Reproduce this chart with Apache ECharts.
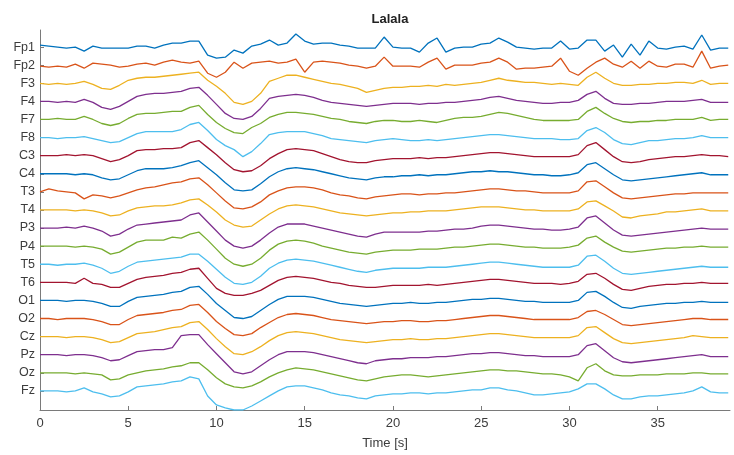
<!DOCTYPE html>
<html>
<head>
<meta charset="utf-8">
<title>Lalala</title>
<script src="https://cdn.jsdelivr.net/npm/echarts@6/dist/echarts.min.js"></script>
<style>
  html, body { margin: 0; padding: 0; background: #fff; }
  #chart { width: 734px; height: 455px; }
</style>
</head>
<body>
<div id="chart"></div>
<script>
// channel names, top to bottom
const channels = ['Fp1', 'Fp2', 'F3', 'F4', 'F7', 'F8', 'C3', 'C4', 'T3', 'T4',
  'P3', 'P4', 'T5', 'T6', 'O1', 'O2', 'Cz', 'Pz', 'Oz', 'Fz']
const sampleStep = 0.5 // seconds between samples
const xTicks = [0, 5, 10, 15, 20, 25, 30, 35]

// amplitudes (uV), one sample every 0.5 s from 0 to 39 s
const fp1 = [2, 1, 0, -1, 0, -4, 1, -1, -1, -1, -1, 1, 1, -1, 2, 4, 4, 6, 6, -8,
  -11, -10, -3, -6, 1, 3, 7, 2, 4, 13, 6, 3, 4, 4, 2, 1, -1, -1, -1, 10,
  0, -1, -1, -5, 4, 9, -5, -1, 0, 0, 3, 4, 9, 5, 0, -1, -2, -1, -1, 6,
  -2, -1, 7, 7, -4, 2, -10, 3, -8, 6, -1, -2, 0, 1, -2, 12, -3, -1, -1]
const fp2 = [-1, -2, -1, -2, 1, -3, 2, 1, 0, -2, -1, 1, 2, 0, 3, 5, 3, 2, 4, -8,
  -12, -7, 3, -3, 2, 3, 4, 2, 3, 6, -7, 3, 4, 3, 2, 0, -1, -3, -1, 8,
  -1, -1, -1, -2, 3, 7, -4, 0, 0, 0, 2, 3, 7, 3, -4, -3, -3, -2, -1, 7,
  -6, -10, -3, 3, 7, 1, -2, 4, -3, 4, -1, -2, 1, 1, -2, 14, -3, -1, 0]
const f3 = [0, -1, 0, -1, 0, 2, -1, -5, -6, -2, 3, 5, 6, 6, 7, 8, 9, 10, 11, 3,
  -3, -10, -19, -21, -18, -10, 2, 5, 8, 8, 6, 4, 2, 0, -1, -3, -5, -9, -7, -5,
  -4, -4, -3, -3, -2, -3, -1, -2, -1, 0, 1, 3, 5, 3, 2, 1, 1, 0, -1, 0,
  -1, -2, 6, 11, 5, 0, -2, -2, -1, -1, 0, 0, 1, 1, 0, 3, -1, 0, 0]
const f4 = [0, 0, -1, 0, -1, 2, -1, -6, -8, -5, 0, 5, 7, 8, 8, 9, 10, 13, 14, 6,
  -3, -12, -17, -18, -15, -7, 3, 5, 6, 7, 6, 4, 1, -1, -2, -3, -4, -5, -4, -3,
  -2, -2, -2, -3, -2, -2, -1, -1, 0, 1, 2, 4, 5, 3, 1, 0, -1, -2, -2, -1,
  -1, 1, 7, 10, 3, -2, -3, -3, -2, -2, -1, 0, 0, 0, 1, 2, -1, -1, -1]
const f7 = [0, 0, 1, 0, 0, 3, 0, -4, -6, -4, 1, 5, 6, 6, 7, 8, 8, 12, 14, 5,
  -3, -9, -13, -14, -8, -4, 2, 5, 7, 7, 6, 5, 3, 1, 0, -2, -3, -4, -2, -1,
  -1, -2, -2, -1, -2, -3, -1, 1, 2, 2, 3, 5, 7, 6, 4, 2, 0, -1, -1, -1,
  -1, 0, 8, 12, 6, 1, -2, -3, -2, -2, -1, -1, 0, 0, 0, 2, -1, 0, 0]
const f8 = [0, 0, -1, 0, 0, 1, -1, -3, -5, -4, 0, 4, 6, 6, 6, 6, 8, 13, 15, 7,
  -2, -8, -12, -19, -14, -6, 3, 5, 6, 6, 6, 4, 2, -1, -2, -3, -4, -5, -3, -2,
  -1, -2, -3, -3, -2, -3, -2, -1, 0, 1, 2, 3, 3, 2, 1, 0, -1, -1, -1, -2,
  -2, -1, 7, 10, 5, -2, -6, -7, -5, -3, -3, -2, -1, -1, 0, 2, 0, 0, 0]
const c3 = [0, 0, 0, 1, 0, 1, 0, -3, -6, -4, 0, 5, 6, 6, 7, 7, 8, 13, 15, 8,
  1, -7, -14, -16, -15, -10, -3, 2, 6, 7, 6, 5, 2, -1, -4, -6, -7, -7, -5, -4,
  -3, -3, -3, -2, -3, -2, -2, -1, 0, 1, 2, 3, 3, 2, 1, 0, -1, -1, -1, -1,
  -1, 1, 10, 13, 6, -1, -6, -7, -6, -4, -3, -2, -1, -1, 0, 1, 0, 0, -1]
const c4 = [0, 0, 0, 0, -1, 0, -1, -4, -6, -5, -1, 3, 5, 5, 5, 6, 8, 11, 13, 6,
  -1, -9, -16, -17, -16, -10, -3, 2, 5, 6, 5, 4, 2, 0, -2, -4, -5, -6, -4, -3,
  -3, -2, -2, -1, -2, -1, -1, 0, 1, 2, 2, 3, 2, 2, 1, 0, -1, -1, -2, -2,
  -1, 1, 9, 11, 5, -1, -6, -7, -6, -5, -4, -3, -2, -1, 0, 1, -1, -1, -1]
const t3 = [0, 3, 1, 0, -1, -7, -3, -4, -6, -4, -1, 2, 4, 5, 7, 9, 10, 13, 14, 7,
  -1, -9, -16, -17, -15, -10, -3, 1, 4, 5, 5, 4, 2, -1, -3, -4, -6, -7, -5, -4,
  -3, -2, -2, -3, -2, -2, -1, -1, 0, 1, 2, 3, 3, 2, 1, 1, 0, -1, -1, -1,
  -1, 1, 10, 11, 5, -1, -6, -7, -6, -5, -4, -3, -2, -2, -1, -1, -1, -1, -1]
const t4 = [0, 0, 0, 0, -1, 0, -1, -3, -6, -5, -1, 2, 3, 4, 4, 5, 7, 10, 11, 5,
  -2, -10, -15, -17, -16, -10, -4, 1, 4, 5, 4, 3, 1, -1, -3, -4, -5, -6, -5, -4,
  -3, -3, -2, -2, -1, -1, -1, 0, 1, 2, 3, 3, 3, 2, 1, 0, 0, -1, -1, -1,
  -1, 1, 8, 9, 4, -1, -7, -8, -6, -5, -4, -2, -2, -1, 0, 1, -1, -1, -1]
const p3 = [0, 0, 0, 1, 0, 2, 0, -3, -8, -6, -1, 3, 4, 5, 6, 7, 8, 13, 15, 6,
  -3, -12, -18, -20, -18, -12, -5, 1, 4, 4, 4, 2, 0, -2, -4, -6, -8, -9, -6, -4,
  -4, -4, -4, -4, -3, -3, -2, -1, -1, 0, 2, 3, 3, 2, 1, 0, -1, -1, -2, -2,
  -1, 1, 10, 12, 5, -2, -7, -8, -7, -6, -5, -4, -3, -2, -1, 0, -1, -1, -1]
const p4 = [0, 0, 0, 0, -1, 0, -1, -3, -8, -6, -1, 4, 6, 6, 6, 9, 8, 12, 14, 6,
  -3, -12, -18, -20, -18, -12, -4, 2, 5, 6, 5, 3, 0, -2, -4, -6, -7, -8, -6, -5,
  -4, -4, -4, -3, -3, -3, -2, -1, -1, 0, 1, 2, 2, 1, 0, -1, -1, -2, -2, -2,
  -1, 1, 8, 10, 4, -1, -5, -6, -5, -4, -3, -2, -2, -1, -1, 0, -1, -1, -1]
const t5 = [0, 0, -1, 0, 0, 1, -1, -4, -9, -7, -2, 2, 3, 4, 5, 6, 7, 10, 10, 3,
  -5, -13, -19, -20, -18, -12, -4, 1, 4, 5, 4, 3, 1, -1, -3, -5, -7, -8, -6, -5,
  -4, -4, -4, -4, -3, -3, -3, -2, -1, 0, 1, 2, 2, 1, 0, -1, -2, -3, -3, -3,
  -3, -1, 8, 9, 3, -4, -9, -10, -9, -8, -7, -6, -5, -4, -3, -2, -3, -3, -3]
const t6 = [0, 0, 0, 0, -1, 4, -1, -2, -5, -5, -1, 3, 5, 6, 7, 9, 10, 13, 14, 4,
  -6, -11, -13, -13, -11, -8, -3, 2, 5, 6, 5, 4, 2, 0, -1, -3, -4, -5, -5, -4,
  -3, -3, -3, -3, -2, -3, -2, -1, 0, 1, 2, 3, 3, 2, 1, 0, -1, -1, -1, -2,
  -1, 1, 8, 9, 4, -2, -7, -8, -6, -4, -3, -2, -2, -1, -1, 0, -1, -1, -1]
const o1 = [0, 0, 0, -1, 0, 0, -1, -3, -6, -6, -1, 3, 4, 5, 6, 8, 9, 13, 14, 6,
  -3, -10, -17, -18, -16, -10, -4, 1, 4, 4, 4, 3, 1, -1, -3, -4, -5, -6, -5, -4,
  -3, -3, -2, -3, -3, -2, -2, -1, 0, 1, 1, 2, 2, 1, 0, -1, -1, -2, -2, -2,
  -2, 0, 8, 9, 4, -2, -7, -8, -6, -5, -4, -3, -3, -2, -2, -1, -2, -2, -2]
const o2 = [0, 0, -1, 0, 0, 0, -1, -3, -6, -6, -1, 3, 4, 5, 6, 8, 9, 13, 14, 6,
  -3, -10, -16, -17, -15, -9, -4, 1, 4, 5, 4, 3, 1, -1, -2, -3, -4, -5, -4, -3,
  -3, -2, -2, -3, -3, -2, -2, -1, 0, 1, 2, 3, 3, 2, 1, 0, -1, -1, -1, -1,
  -1, 1, 7, 8, 4, -1, -6, -7, -6, -5, -4, -3, -2, -1, 0, 0, -1, -1, -1]
const cz = [0, 0, 0, -1, 0, 0, -1, -3, -6, -5, -1, 3, 4, 5, 7, 9, 10, 14, 15, 7,
  -2, -10, -17, -18, -15, -10, -4, 1, 4, 5, 4, 3, 1, -1, -3, -4, -5, -6, -5, -4,
  -3, -3, -2, -3, -3, -2, -2, -1, 0, 1, 2, 3, 3, 2, 1, 0, -1, -1, -1, -1,
  -1, 1, 9, 10, 4, -2, -6, -7, -6, -5, -4, -3, -2, -1, 1, 0, -1, -1, -1]
const pz = [0, 0, 0, -1, 0, 0, -1, -3, -6, -5, -1, 3, 4, 5, 5, 7, 19, 20, 20, 10,
  1, -8, -17, -19, -17, -11, -5, 0, 3, 3, 3, 2, 0, -2, -4, -6, -8, -9, -6, -5,
  -4, -4, -3, -3, -3, -2, -2, -1, 0, 1, 1, 2, 2, 1, 0, -1, -1, -2, -2, -2,
  -2, 0, 9, 11, 4, -3, -7, -8, -7, -6, -5, -4, -3, -2, -1, 0, -2, -2, -2]
const oz = [0, 0, 0, 0, -1, 0, -1, -2, -7, -6, -2, 0, 2, 3, 4, 6, 7, 10, 10, 3,
  -5, -11, -14, -15, -13, -9, -4, 0, 3, 5, 4, 3, 1, -1, -3, -5, -7, -8, -6, -4,
  -3, -2, -2, -3, -4, -3, -2, -1, 0, 1, 2, 3, 3, 2, 2, 1, 0, -1, -1, -2,
  -4, -8, 5, 9, 2, -2, -3, -3, -2, -2, -2, -1, -1, -1, 0, 0, -1, -1, -1]
const fz = [0, 0, 0, -1, 0, 3, -1, -3, -6, -5, -1, 4, 5, 6, 7, 9, 10, 14, 12, -5,
  -14, -17, -19, -19, -15, -10, -5, 0, 4, 5, 5, 3, 1, -2, -4, -5, -7, -8, -5, -4,
  -3, -3, -2, -2, -3, -2, -2, -1, 0, 1, 1, 3, 3, 1, 0, -2, -4, -4, -3, -2,
  -1, 2, 7, 7, 2, -4, -8, -8, -6, -5, -5, -4, -3, -2, 0, 4, -1, -2, -2]

const traces = [fp1, fp2, f3, f4, f7, f8, c3, c4, t3, t4, p3, p4, t5, t6, o1, o2, cz, pz, oz, fz]
const channelGap = 18
const palette = ['#0072BD', '#D95319', '#EDB120', '#7E2F8E', '#77AC30', '#4DBEEE', '#A2142F']

const time = fp1.map((_, i) => i * sampleStep)
const offsets = channels.map((_, i) => (channels.length - 1 - i) * channelGap)

const chart = echarts.init(document.getElementById('chart'))

const series = traces.map((trace, i) => ({
  name: channels[i],
  type: 'line',
  data: trace.map((v, k) => [time[k], v + offsets[i]]),
  showSymbol: false,
  clip: true,
  lineStyle: { width: 1.3, color: palette[i % palette.length] },
  itemStyle: { color: palette[i % palette.length] },
}))

const axisColor = '#7a7a7a'
const textColor = '#3c3c3c'

chart.setOption({
  animation: false,
  textStyle: { fontFamily: 'Liberation Sans, Arial, sans-serif' },
  title: {
    text: 'Lalala',
    left: 385,
    top: 8,
    textAlign: 'center',
    textStyle: { fontSize: 13, fontWeight: 'bold', color: '#222' },
  },
  grid: { left: 40, right: 4, top: 30, bottom: 43 },
  xAxis: {
    type: 'value',
    min: 0,
    max: 39.1,
    name: 'Time [s]',
    nameLocation: 'middle',
    nameGap: 27,
    nameTextStyle: { fontSize: 13, color: textColor },
    axisLine: { onZero: false, lineStyle: { color: axisColor, width: 1 } },
    axisTick: { inside: true, length: 4, customValues: xTicks, lineStyle: { color: axisColor } },
    axisLabel: { customValues: xTicks, fontSize: 13, color: textColor, margin: 7 },
    splitLine: { show: false },
  },
  yAxis: {
    type: 'value',
    min: -19,
    max: 359,
    axisLine: { show: true, onZero: false, lineStyle: { color: axisColor, width: 1 } },
    axisTick: { show: true, inside: true, length: 4, customValues: offsets, lineStyle: { color: axisColor } },
    axisLabel: {
      customValues: offsets,
      fontSize: 12.5,
      color: textColor,
      margin: 5,
      formatter: v => channels[channels.length - 1 - Math.round(v / channelGap)],
    },
    splitLine: { show: false },
  },
  series,
})
</script>
</body>
</html>
